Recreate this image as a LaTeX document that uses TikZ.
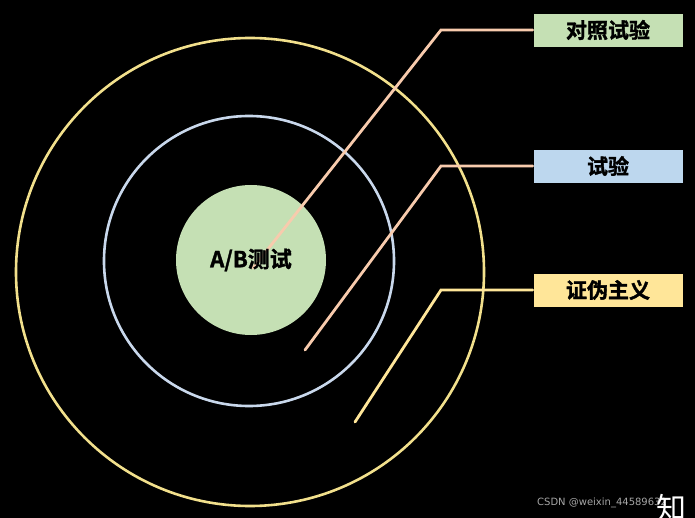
\documentclass[tikz,border=0pt]{standalone}
\usepackage{fontspec}
\newfontfamily\cjk{Noto Sans CJK SC}[BoldFont={Noto Sans CJK SC Bold},BoldFeatures={FakeBold=1.6}]
\newfontfamily\wmfont{DejaVu Sans}
\usetikzlibrary{positioning}
\definecolor{ringyellow}{HTML}{F2E08C}
\definecolor{ringblue}{HTML}{C9D8EC}
\definecolor{coregreen}{HTML}{C5E0B4}
\definecolor{tagblue}{HTML}{BDD7EE}
\definecolor{tagyellow}{HTML}{FFE699}
\definecolor{leadpeach}{HTML}{F8CBAD}

\begin{document}
\begin{tikzpicture}[x=1pt,y=-1pt,
  tag/.style={draw=black,minimum width=150pt,minimum height=34pt,inner sep=0pt,font=\cjk\bfseries\fontsize{21}{21}\selectfont},
  lead/.style={line width=2.8pt,line cap=round}]
\fill[black] (0,0) rectangle (695,518);
\useasboundingbox (0,0) rectangle (695,518);
% rings
\draw[ringyellow,line width=2.6pt] (250,272) circle (234);
\draw[ringblue,line width=2.6pt] (249,261) circle (145);
\node[circle,fill=coregreen,minimum size=150pt,inner sep=0pt] (core) at (251,260) {};
% tags
\node[tag,fill=coregreen] (t1) at (608,30) {对照试验};
\node[tag,fill=tagblue] (t2) at (608,166) {试验};
\node[tag,fill=tagyellow] (t3) at (608,290) {证伪主义};
% leads
\coordinate (s1) at (253,268);
\coordinate (s2) at (305,350);
\coordinate (s3) at (355,422);
\coordinate (k1) at (441,30);
\coordinate (k2) at (441,166);
\coordinate (k3) at (441,290);
\draw[lead,leadpeach] (s1) -- (k1) -- (t1.west);
\draw[lead,leadpeach] (s2) -- (k2) -- (t2.west);
\draw[lead,tagyellow] (s3) -- (k3) -- (t3.west);
\node[font=\cjk\bfseries\fontsize{22}{22}\selectfont] (core text) at (core.center) {A/B测试};
% watermark
\node[anchor=west,text=gray!70,font=\wmfont\fontsize{10}{10}\selectfont,inner sep=0pt] (wm) at (537,503) {CSDN @weixin\_44589632};
\node[anchor=north west,text=white,font=\cjk\fontsize{30}{30}\selectfont,inner sep=0pt] (zhi) at (656,494) {知};
\end{tikzpicture}
\end{document}
